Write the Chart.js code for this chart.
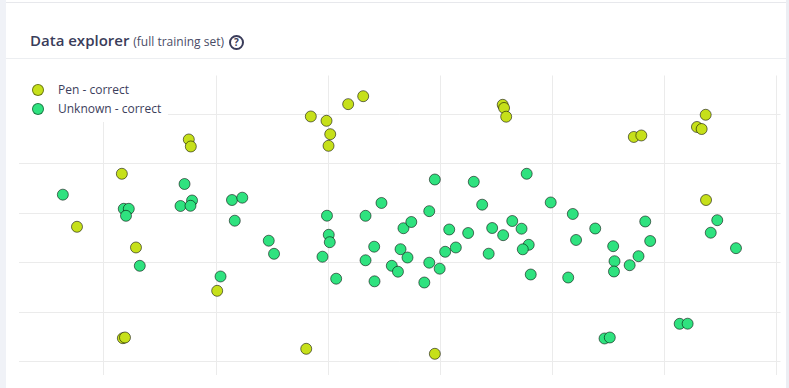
<!DOCTYPE html>
<html>
<head>
<meta charset="utf-8">
<script src="https://cdn.jsdelivr.net/npm/chart.js@4/dist/chart.umd.min.js"></script>
<style>
  html, body { margin: 0; padding: 0; background: #ffffff; }
  body { width: 789px; height: 388px; overflow: hidden; position: relative; font-family: "Open Sans", "Noto Sans", sans-serif; }
  .strip-l { position: absolute; left: 0; top: 0; width: 6px; height: 388px; background: #f0f2f7; }
  .strip-r { position: absolute; left: 786px; top: 0; width: 3px; height: 388px; background: #eceef3; }
  .line-top { position: absolute; left: 6px; top: 2px; width: 780px; height: 1px; background: #e7e8ec; }
  .line-head { position: absolute; left: 6px; top: 58px; width: 780px; height: 1px; background: #eceef1; }
  .title { position: absolute; left: 30px; top: 28px; height: 24px; line-height: 24px; white-space: nowrap; color: #3a3c5a; font-size: 15px; font-weight: 600; }
  .title .sub { font-size: 12px; font-weight: 400; color: #4a4c66; }
  .help { display: inline-block; width: 11px; height: 11px; border: 2px solid #3a3c5a; border-radius: 50%; font-size: 10px; line-height: 11px; text-align: center; font-weight: 700; vertical-align: 0px; margin-left: 1px; }
  .chartbox { position: absolute; left: 18px; top: 75px; width: 762px; height: 299px; }
  .legend { position: absolute; left: 18px; top: 75px; width: 150px; height: 47px; background: #ffffff; }
  .legend .item { position: absolute; left: 14px; height: 18px; line-height: 18px; font-size: 12px; color: #3c3e5c; white-space: nowrap; }
  .legend .dot { position: absolute; left: 0; top: 3px; width: 10px; height: 10px; border-radius: 50%; border: 1px solid rgba(0,0,0,0.45); }
  .legend .lbl { position: absolute; left: 26px; top: 0; }
</style>
</head>
<body>
<div class="strip-l"></div>
<div class="strip-r"></div>
<div class="line-top"></div>
<div class="title">Data explorer <span class="sub">(full training set)</span> <span class="help">?</span></div>
<div class="line-head"></div>
<div class="chartbox" id="box"><canvas id="c"></canvas></div>
<div class="legend" id="legend"></div>
<script>
// ---- data ----
const seriesNames = ["Pen - correct", "Unknown - correct"];
const seriesColors = ["#c6e01a", "#2fe27f"];

const penX = [7.57, 7.75, 18.45, 19.85, 20.18, 20.03, 21.78, 23.12, 1.60, -2.40, 2.86, 10.10, 1.69, 1.88, 18.04,
  35.56, 35.68, 35.87, 47.25, 47.92, 53.66, 52.88, 53.30, 53.69, 29.51];
const penY = [44.94, 43.52, 49.60, 48.72, 46.01, 43.66, 52.09, 53.70, 38.00, 27.27, 23.08, 14.31, 4.72, 4.86, 2.57,
  51.96, 51.32, 49.55, 45.45, 45.75, 49.94, 47.47, 47.06, 32.69, 1.56];

const unknownX = [-3.66, 7.19, 7.86, 6.83, 7.72, 1.77, 2.22, 1.97, 3.20, 11.42, 12.34, 11.67, 14.70, 15.17, 10.40,
  19.89, 20.05, 20.14, 19.49, 20.71, 24.75, 23.33, 24.10, 23.33, 24.13, 25.67, 26.22, 26.71, 26.45, 29.51,
  32.98, 37.70, 33.73, 39.84, 29.01, 27.41, 30.79, 32.48, 34.62, 36.41, 37.24, 35.60, 41.81, 43.81, 42.10,
  27.07, 30.43, 31.38, 34.31, 37.88, 37.35, 29.01, 29.94, 28.57, 38.06, 41.40, 45.41, 48.27, 48.71, 47.67,
  45.53, 46.88, 45.48, 54.69, 54.11, 56.36, 51.34, 52.05, 44.64, 45.11];
const unknownY = [33.77, 35.93, 32.59, 31.48, 31.52, 30.91, 30.91, 29.49, 19.37, 32.69, 33.16, 28.50, 24.45, 21.80, 17.21,
  29.51, 25.65, 24.15, 21.21, 16.76, 32.09, 29.49, 23.24, 20.49, 16.23, 19.37, 18.18, 26.98, 22.73, 36.84,
  36.38, 38.00, 31.74, 32.19, 30.43, 28.24, 26.72, 26.01, 27.02, 28.44, 26.88, 25.57, 29.86, 26.92, 24.60,
  21.05, 22.21, 23.08, 21.82, 23.62, 22.71, 20.00, 18.79, 15.99, 17.61, 17.00, 23.34, 28.34, 24.39, 21.32,
  20.30, 19.49, 18.22, 28.60, 26.07, 22.94, 7.63, 7.65, 4.66, 4.86];

const xTicks = [0, 10, 20, 30, 40, 50, 60];
const yTicks = [0, 10, 20, 30, 40, 50];
const xRange = [-7.615, 60.33];
const yRange = [-2.63, 57.89];

// ---- build ----
function pts(xs, ys) { return xs.map((x, i) => ({ x: x, y: ys[i] })); }
const allData = [pts(penX, penY), pts(unknownX, unknownY)];

const gridColor = "#ebebeb";
function axis(range, ticks) {
  return {
    type: "linear",
    min: range[0],
    max: range[1],
    afterBuildTicks: (s) => { s.ticks = ticks.map(v => ({ value: v })); },
    ticks: { display: false },
    grid: { color: gridColor, lineWidth: 1, drawTicks: false },
    border: { display: false }
  };
}

const chart = new Chart(document.getElementById("c"), {
  type: "scatter",
  data: {
    datasets: seriesNames.map((name, i) => ({
      label: name,
      data: allData[i],
      backgroundColor: seriesColors[i],
      borderColor: "rgba(0,0,0,0.55)",
      borderWidth: 1,
      pointRadius: 5.5,
      pointHoverRadius: 5.5
    }))
  },
  options: {
    responsive: true,
    maintainAspectRatio: false,
    animation: false,
    layout: { padding: 0 },
    plugins: { legend: { display: false }, tooltip: { enabled: false } },
    scales: { x: axis(xRange, xTicks), y: axis(yRange, yTicks) }
  }
});

// make the plotting area land on the intended rectangle (18..780 x 75..374)
(function fitArea() {
  const ca = chart.chartArea;
  const w = chart.width, h = chart.height;
  const padL = ca.left, padT = ca.top, padR = w - ca.right, padB = h - ca.bottom;
  const box = document.getElementById("box");
  box.style.left = (18 - padL) + "px";
  box.style.top = (75 - padT) + "px";
  box.style.width = (762 + padL + padR) + "px";
  box.style.height = (299 + padT + padB) + "px";
  chart.resize();
})();

// HTML legend overlay
const lg = document.getElementById("legend");
seriesNames.forEach((name, i) => {
  const it = document.createElement("div");
  it.className = "item";
  it.style.top = (6 + i * 19) + "px";
  const d = document.createElement("span");
  d.className = "dot";
  d.style.background = seriesColors[i];
  const l = document.createElement("span");
  l.className = "lbl";
  l.textContent = name;
  it.appendChild(d); it.appendChild(l);
  lg.appendChild(it);
});
</script>
</body>
</html>
